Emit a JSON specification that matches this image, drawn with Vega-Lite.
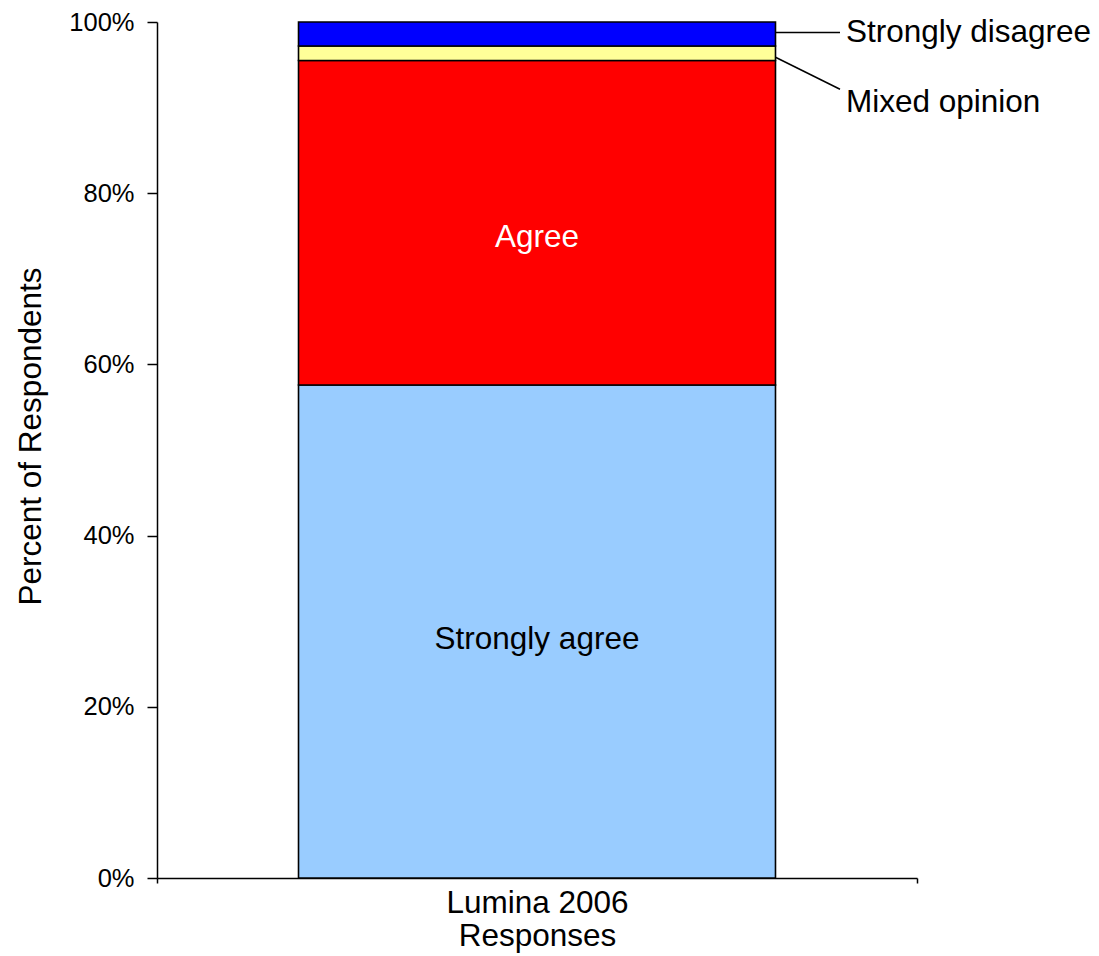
{
  "$schema": "https://vega.github.io/schema/vega-lite/v6.json",
  "width": 760,
  "height": 856,
  "autosize": {"type": "none"},
  "padding": {"left": 157, "top": 22, "right": 182, "bottom": 78},
  "background": "white",
  "data": {
    "values": [
      {"Series": "Lumina 2006", "Response": "Strongly agree", "Share": 0.576, "rank": 1},
      {"Series": "Lumina 2006", "Response": "Agree", "Share": 0.379, "rank": 2},
      {"Series": "Lumina 2006", "Response": "Mixed opinion", "Share": 0.017, "rank": 3},
      {"Series": "Lumina 2006", "Response": "Strongly disagree", "Share": 0.028, "rank": 4}
    ]
  },
  "transform": [
    {"stack": "Share", "groupby": ["Series"], "sort": [{"field": "rank", "order": "ascending"}], "as": ["v0", "v1"]}
  ],
  "encoding": {
    "x": {
      "field": "Series", "type": "nominal",
      "scale": {"type": "band", "paddingInner": 0, "paddingOuter": 0},
      "axis": {
        "title": "Responses", "labelAngle": 0, "tickBand": "extent", "ticks": true, "tickSize": 5,
        "labelFontSize": 31.5, "titleFontSize": 31.5, "labelPadding": 4, "titlePadding": 2, "labelLimit": 500,
        "domainWidth": 1.5, "tickWidth": 1.5
      }
    }
  },
  "layer": [
    {
      "mark": {"type": "bar", "width": {"band": 0.6276}, "stroke": "black", "strokeWidth": 1.6},
      "encoding": {
        "y": {
          "field": "v0", "type": "quantitative",
          "scale": {"domain": [0, 1], "nice": false},
          "axis": {
            "title": "Percent of Respondents", "values": [0, 0.2, 0.4, 0.6, 0.8, 1], "format": ".0%",
            "labelFontSize": 25.5, "titleFontSize": 31.5, "tickSize": 10, "labelPadding": 13, "titlePadding": 21,
            "titleY": 414,
            "domainWidth": 1.5, "tickWidth": 1.5
          }
        },
        "y2": {"field": "v1"},
        "color": {
          "field": "Response", "type": "nominal",
          "scale": {"domain": ["Strongly agree", "Agree", "Mixed opinion", "Strongly disagree"], "range": ["#99CCFF", "#FF0000", "#FFFF99", "#0000FF"]},
          "legend": null
        }
      }
    },
    {
      "transform": [
        {"fold": ["v0", "v1"], "as": ["edge", "pos"]},
        {"aggregate": [{"op": "mean", "field": "pos", "as": "mid"}], "groupby": ["Series", "Response"]}
      ],
      "layer": [
        {
          "transform": [{"filter": "datum.Response === 'Strongly agree'"}],
          "mark": {"type": "text", "font": "Liberation Sans", "fontSize": 31.5, "baseline": "middle", "align": "center", "dy": 9, "color": "black"},
          "encoding": {
            "y": {"field": "mid", "type": "quantitative"},
            "text": {"field": "Response"}
          }
        },
        {
          "transform": [{"filter": "datum.Response === 'Agree'"}],
          "mark": {"type": "text", "font": "Liberation Sans", "fontSize": 31.5, "baseline": "middle", "align": "center", "dy": 15, "color": "white"},
          "encoding": {
            "y": {"field": "mid", "type": "quantitative"},
            "text": {"field": "Response"}
          }
        },
        {
          "transform": [{"filter": "datum.Response === 'Strongly disagree'"}],
          "mark": {"type": "rule", "color": "black", "strokeWidth": 1.5, "xOffset": 238.5, "x2Offset": 303, "yOffset": -1.5, "y2Offset": -1.5},
          "encoding": {
            "x2": {"field": "Series"},
            "y": {"field": "mid", "type": "quantitative"},
            "y2": {"field": "mid"}
          }
        },
        {
          "transform": [{"filter": "datum.Response === 'Mixed opinion'"}],
          "mark": {"type": "rule", "color": "black", "strokeWidth": 1.5, "xOffset": 238.5, "x2Offset": 303, "yOffset": 4, "y2Offset": 36},
          "encoding": {
            "x2": {"field": "Series"},
            "y": {"field": "mid", "type": "quantitative"},
            "y2": {"field": "mid"}
          }
        },
        {
          "transform": [{"filter": "datum.Response === 'Strongly disagree'"}],
          "mark": {"type": "text", "font": "Liberation Sans", "fontSize": 31.5, "baseline": "middle", "align": "left", "dx": 309, "dy": -1, "color": "black"},
          "encoding": {
            "y": {"field": "mid", "type": "quantitative"},
            "text": {"field": "Response"}
          }
        },
        {
          "transform": [{"filter": "datum.Response === 'Mixed opinion'"}],
          "mark": {"type": "text", "font": "Liberation Sans", "fontSize": 31.5, "baseline": "middle", "align": "left", "dx": 309, "dy": 50, "color": "black"},
          "encoding": {
            "y": {"field": "mid", "type": "quantitative"},
            "text": {"field": "Response"}
          }
        }
      ]
    }
  ],
  "config": {
    "view": {"stroke": null},
    "axis": {
      "grid": false, "domainColor": "black", "tickColor": "black", "labelColor": "black", "titleColor": "black",
      "labelFont": "Liberation Sans", "titleFont": "Liberation Sans", "titleFontWeight": "normal"
    }
  }
}
